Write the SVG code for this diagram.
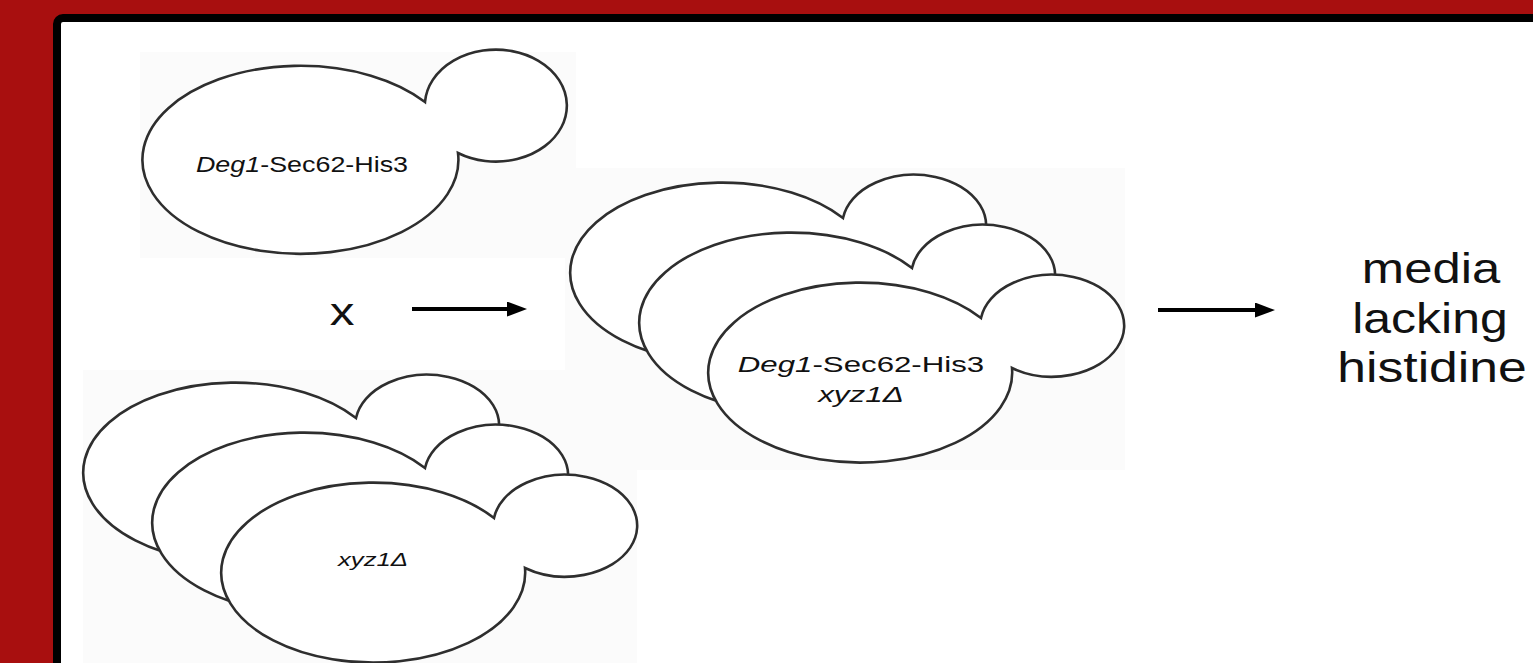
<svg xmlns="http://www.w3.org/2000/svg" width="1533" height="663" viewBox="0 0 1533 663">
  <style>
    .cell { fill: #ffffff; stroke: #2e2e2e; stroke-width: 2.6; stroke-linejoin: miter; }
    .bg { fill: #fbfbfb; }
    .lbl { font-family: "Liberation Sans", Arial, sans-serif; fill: #111111; text-anchor: middle; }
    .it { font-style: italic; }
    .arrow { stroke: #000000; stroke-width: 4; fill: none; }
  </style>
  <defs>
    <!-- budding yeast cell outline, origin at the centre of the mother cell -->
    <path id="yeast" d="M120,-55 A152,90 0 1 0 151,-5 A72,51 0 1 0 120,-55 Z"/>
    <marker id="head" viewBox="0 0 20 15" markerWidth="20" markerHeight="15" refX="3" refY="7.5" markerUnits="userSpaceOnUse" orient="auto">
      <path d="M0,0 L20,7.5 L0,15 Z" fill="#000000"/>
    </marker>
  </defs>

  <!-- frame -->
  <rect x="0" y="0" width="1533" height="663" fill="#a80f0f"/>
  <rect x="57" y="18" width="1600" height="800" rx="6" fill="#ffffff" stroke="#000000" stroke-width="8"/>

  <!-- reporter strain -->
  <g id="reporter">
    <rect class="bg" x="140" y="52" width="436" height="206"/>
    <path class="cell" d="M425,102 A158,94 0 1 0 458,153 A71,56 0 1 0 425,102 Z"/>
    <text class="lbl" font-size="21.5" transform="translate(302,172) scale(1.25,1)"><tspan class="it">Deg1</tspan>-Sec62-His3</text>
  </g>

  <!-- haploid progeny -->
  <g id="progeny">
    <rect class="bg" x="565" y="168" width="560" height="302"/>
    <use href="#yeast" class="cell" transform="translate(723,273)"/>
    <use href="#yeast" class="cell" transform="translate(792,323)"/>
    <use href="#yeast" class="cell" transform="translate(861,373)"/>
    <text class="lbl" font-size="22" transform="translate(861,372) scale(1.42,1)"><tspan class="it">Deg1</tspan>-Sec62-His3</text>
    <text class="lbl it" font-size="22" transform="translate(861,402) scale(1.43,1)">xyz1Δ</text>
  </g>

  <!-- deletion collection -->
  <g id="deletion">
    <rect class="bg" x="83" y="370" width="554" height="293"/>
    <use href="#yeast" class="cell" transform="translate(236,473)"/>
    <use href="#yeast" class="cell" transform="translate(305,523)"/>
    <use href="#yeast" class="cell" transform="translate(374,573)"/>
    <text class="lbl it" font-size="18" transform="translate(373,566) scale(1.43,1)">xyz1Δ</text>
  </g>

  <!-- cross symbol -->
  <g id="cross">
    <text class="lbl" font-size="38" transform="translate(342,325) scale(1.3,1)">x</text>
  </g>

  <!-- selection medium -->
  <g id="selection">
    <text class="lbl" font-size="42" transform="translate(1431,283) scale(1.21,1)">media</text>
    <text class="lbl" font-size="42" transform="translate(1430,333) scale(1.19,1)">lacking</text>
    <text class="lbl" font-size="42" transform="translate(1432,382) scale(1.23,1)">histidine</text>
  </g>

  <!-- connectors -->
  <g id="connectors">
    <line class="arrow" x1="412" y1="309" x2="510" y2="309" marker-end="url(#head)"/>
    <line class="arrow" x1="1158" y1="310" x2="1258" y2="310" marker-end="url(#head)"/>
  </g>
</svg>
